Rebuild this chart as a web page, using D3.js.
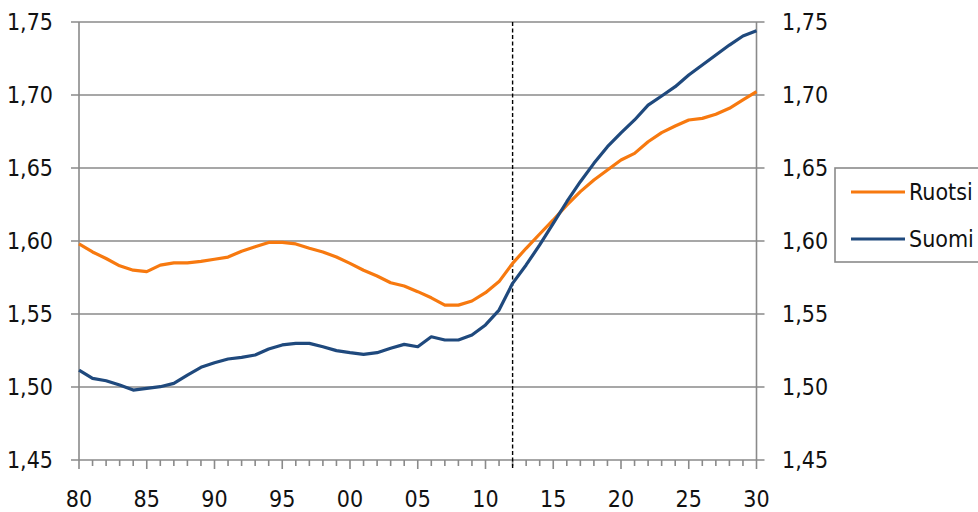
<!DOCTYPE html>
<html lang="fi">
<head>
  <meta charset="UTF-8">
  <title>Ruotsi ja Suomi</title>
  <script src="https://d3js.org/d3.v7.min.js"></script>
  <style>
    body {
      margin: 0;
      padding: 0;
      background: #ffffff;
    }

    svg {
      display: block;
      font-family: 'Liberation Sans Narrow', 'DejaVu Sans Condensed', sans-serif;
    }
  </style>
</head>
<body>
  <svg id="chart" width="978" height="512"></svg>

  <script>
    const years = d3.range(1980, 2031);

    const ruotsi = [
      1.598, 1.5925, 1.588, 1.583, 1.580, 1.579, 1.5835, 1.585, 1.585, 1.586,
      1.5875, 1.589, 1.593, 1.596, 1.599, 1.599, 1.598, 1.595, 1.5925, 1.589,
      1.5847, 1.580, 1.576, 1.5714, 1.5692, 1.5653, 1.5611, 1.5561, 1.5561, 1.5589,
      1.5646, 1.5722, 1.5847, 1.595, 1.6048, 1.6144, 1.6246, 1.6338, 1.6418, 1.6486,
      1.6555, 1.660, 1.668, 1.6742, 1.6788, 1.6829, 1.684, 1.6868, 1.6909, 1.6966,
      1.7023
    ];

    const suomi = [
      1.5116, 1.5059, 1.5043, 1.5013, 1.4979, 1.499, 1.5002, 1.5025, 1.5082, 1.5135,
      1.5166, 1.5192, 1.5203, 1.5219, 1.526, 1.5288, 1.5299, 1.5299, 1.5276, 1.5249,
      1.5235, 1.5224, 1.5235, 1.5265, 1.5292, 1.5276, 1.5344, 1.5322, 1.5322, 1.5356,
      1.5425, 1.5527, 1.571, 1.5836, 1.5973, 1.6121, 1.6269, 1.6406, 1.6532, 1.6646,
      1.674, 1.6829, 1.6931, 1.6993, 1.7057, 1.7137, 1.7205, 1.7274, 1.7342, 1.7404,
      1.744
    ];

    const yTicks = [1.45, 1.50, 1.55, 1.60, 1.65, 1.70, 1.75];
    const xLabelYears = [1980, 1985, 1990, 1995, 2000, 2005, 2010, 2015, 2020, 2025, 2030];
    const forecastStart = 2012;

    const series = [
      { name: "Ruotsi", values: ruotsi, color: "#f7790f" },
      { name: "Suomi", values: suomi, color: "#1f497d" }
    ];

    const plotLeft = 79, plotRight = 756.5, plotTop = 22, plotBottom = 460;
    const gridColor = "#8a8a8a";

    const x = d3.scaleLinear().domain([1980, 2030]).range([plotLeft, plotRight]);
    const y = d3.scaleLinear().domain([1.45, 1.75]).range([plotBottom, plotTop]);
    const fmt = v => d3.format(".2f")(v).replace(".", ",");

    const svg = d3.select("#chart");

    // horizontal gridlines
    svg.append("g")
      .selectAll("line")
      .data(yTicks)
      .join("line")
      .attr("x1", plotLeft - 8)
      .attr("x2", plotRight + 8)
      .attr("y1", d => y(d))
      .attr("y2", d => y(d))
      .attr("stroke", gridColor)
      .attr("stroke-width", 1.6);

    // left and right axis lines
    [plotLeft, plotRight].forEach(px => {
      svg.append("line")
        .attr("x1", px).attr("x2", px)
        .attr("y1", plotTop).attr("y2", plotBottom)
        .attr("stroke", gridColor)
        .attr("stroke-width", 1.6);
    });

    // x ticks: every year, longer every 5
    svg.append("g")
      .selectAll("line")
      .data(years)
      .join("line")
      .attr("x1", d => x(d))
      .attr("x2", d => x(d))
      .attr("y1", plotBottom)
      .attr("y2", d => d % 5 === 0 ? plotBottom + 9 : plotBottom + 6)
      .attr("stroke", gridColor)
      .attr("stroke-width", 1.6);

    // y labels both sides
    const yl = svg.append("g")
      .style("font-size", "23px")
      .attr("fill", "#111");

    yl.selectAll("text.l")
      .data(yTicks)
      .join("text")
      .attr("class", "l")
      .attr("x", 53)
      .attr("y", d => y(d))
      .attr("dy", "0.36em")
      .attr("text-anchor", "end")
      .text(fmt);

    yl.selectAll("text.r")
      .data(yTicks)
      .join("text")
      .attr("class", "r")
      .attr("x", 782)
      .attr("y", d => y(d))
      .attr("dy", "0.36em")
      .attr("text-anchor", "start")
      .text(fmt);

    // x labels
    svg.append("g")
      .style("font-size", "23px")
      .attr("fill", "#111")
      .selectAll("text")
      .data(xLabelYears)
      .join("text")
      .attr("x", d => x(d))
      .attr("y", 507)
      .attr("text-anchor", "middle")
      .text(d => String(d % 100).padStart(2, "0"));

    // forecast divider
    svg.append("line")
      .attr("x1", x(forecastStart))
      .attr("x2", x(forecastStart))
      .attr("y1", plotTop)
      .attr("y2", plotBottom + 8)
      .attr("stroke", "#000")
      .attr("stroke-width", 1.4)
      .attr("stroke-dasharray", "4,2.5");

    // series lines
    const line = d3.line()
      .x((d, i) => x(years[i]))
      .y(d => y(d));

    svg.append("g")
      .selectAll("path")
      .data(series)
      .join("path")
      .attr("fill", "none")
      .attr("stroke", d => d.color)
      .attr("stroke-width", 3.2)
      .attr("stroke-linejoin", "round")
      .attr("d", d => line(d.values));

    // legend
    const legend = svg.append("g");
    legend.append("rect")
      .attr("x", 835)
      .attr("y", 168)
      .attr("width", 160)
      .attr("height", 94)
      .attr("fill", "#fff")
      .attr("stroke", gridColor)
      .attr("stroke-width", 1.6);

    const item = legend.selectAll("g")
      .data(series)
      .join("g")
      .attr("transform", (d, i) => `translate(0, ${192 + i * 47})`);

    item.append("line")
      .attr("x1", 851)
      .attr("x2", 905)
      .attr("stroke", d => d.color)
      .attr("stroke-width", 3.2);

    item.append("text")
      .attr("x", 909)
      .attr("dy", "0.36em")
      .style("font-size", "23px")
      .attr("fill", "#111")
      .text(d => d.name);
  </script>
</body>
</html>
